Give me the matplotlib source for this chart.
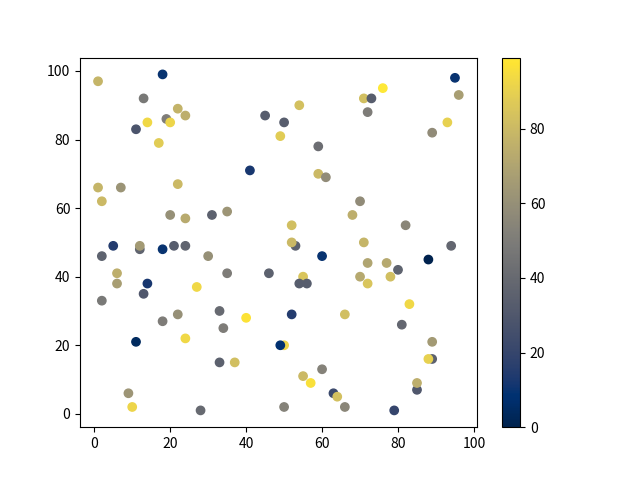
import matplotlib
matplotlib.use("Agg")
import matplotlib.pyplot as plt

plt.rcParams['font.family'] = ['Noto Sans CJK SC', 'DejaVu Sans']
plt.rcParams['axes.unicode_minus'] = False

x = [1, 18, 13, 22, 24, 19, 20, 14, 11, 17, 41, 45, 1, 7, 2, 22, 20, 24, 31, 35,
     5, 12, 12, 18, 21, 24, 2, 30, 6, 35, 46, 6, 14, 13, 27, 2, 33, 22, 18, 34,
     40, 11, 24, 33, 37, 9, 10, 28,
     95, 96, 76, 71, 73, 72, 54, 50, 49, 59, 93, 89, 59, 61, 70, 68, 82, 52, 53, 52, 71, 94,
     60, 88, 72, 77, 80, 55, 54, 56, 70, 72, 78, 83, 52, 66, 81, 89, 50, 49, 89, 88,
     60, 55, 57, 85, 85, 63, 64, 50, 66, 79]
y = [97, 99, 92, 89, 87, 86, 85, 85, 83, 79, 71, 87, 66, 66, 62, 67, 58, 57, 58, 59,
     49, 48, 49, 48, 49, 49, 46, 46, 41, 41, 41, 38, 38, 35, 37, 33, 30, 29, 27, 25,
     28, 21, 22, 15, 15, 6, 2, 1,
     98, 93, 95, 92, 92, 88, 90, 85, 81, 78, 85, 82, 70, 69, 62, 58, 55, 55, 49, 50, 50, 49,
     46, 45, 44, 44, 42, 40, 38, 38, 40, 38, 40, 32, 29, 29, 26, 21, 20, 20, 16, 16,
     13, 11, 9, 7, 9, 6, 5, 2, 2, 1]
values = [78, 10, 48, 77, 75, 50, 92, 93, 28, 88, 12, 33, 78, 62, 80, 80, 60, 73, 35, 63,
          15, 37, 65, 10, 33, 37, 36, 60, 75, 50, 35, 67, 12, 30, 93, 48, 40, 60, 50, 50,
          97, 4, 93, 35, 82, 63, 92, 40,
          10, 67, 99, 82, 33, 50, 83, 33, 88, 42, 90, 58, 80, 58, 58, 75, 55, 82, 35, 80, 78, 38,
          10, 0, 70, 72, 36, 85, 33, 33, 72, 85, 82, 93, 15, 82, 38, 65, 92, 8, 35, 90,
          53, 80, 96, 30, 75, 22, 83, 53, 55, 20]

fig, ax = plt.subplots(figsize=(6.4, 4.8), dpi=100)
sc = ax.scatter(x, y, c=values, cmap='cividis')
fig.colorbar(sc, ax=ax)
fig.savefig('out.png', dpi=100)
